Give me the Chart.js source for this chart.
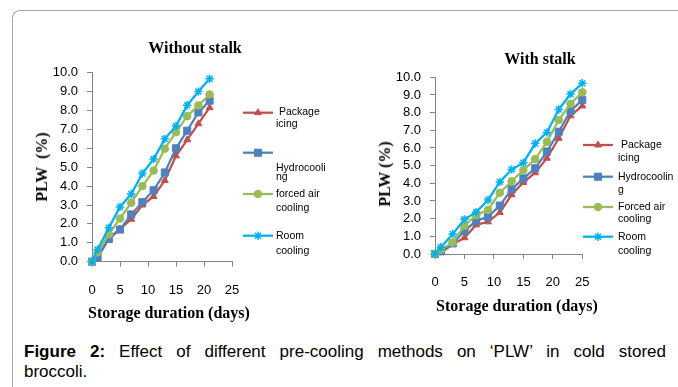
<!DOCTYPE html>
<html>
<head>
<meta charset="utf-8">
<script src="https://cdn.jsdelivr.net/npm/chart.js@4.4.1/dist/chart.umd.min.js"></script>
<style>
  html, body { margin: 0; padding: 0; background: #fff; }
  body { width: 678px; height: 387px; position: relative; overflow: hidden; font-family: "Liberation Sans", Arial, sans-serif; }
  .frame { position: absolute; left: 12px; top: 10px; width: 700px; height: 420px; border-top: 1.5px solid #a6a6a6; border-left: 1.5px solid #a6a6a6; border-top-left-radius: 8px; }
  canvas { position: absolute; }
  .t { position: absolute; font-family: "Liberation Serif", "Times New Roman", serif; font-weight: bold; font-size: 16px; color: #000; white-space: pre; transform: translate(-50%, -50%); }
  .rot { transform: translate(-50%, -50%) rotate(-90deg); }
  .cap { position: absolute; left: 24px; width: 642px; font-size: 17px; line-height: 20px; color: #000; white-space: nowrap; }
  .just { text-align: justify; text-align-last: justify; white-space: normal; }
</style>
</head>
<body>
<div class="frame"></div>
<canvas id="chartLeft" width="326" height="300" style="left:14px;top:12px;"></canvas>
<canvas id="chartRight" width="328" height="300" style="left:350px;top:12px;"></canvas>

<div class="t" style="left:195px;top:48px;">Without stalk</div>
<div class="t" style="left:540px;top:59px;">With stalk</div>
<div class="t rot" style="left:42px;top:167px;">PLW  (%)</div>
<div class="t rot" style="left:385px;top:174px;">PLW (%)</div>
<div class="t" style="left:169px;top:313px;">Storage duration (days)</div>
<div class="t" style="left:517px;top:306px;">Storage duration (days)</div>

<div class="cap just" style="top:342px;"><b>Figure 2:</b> Effect of different pre-cooling methods on ‘PLW’ in cold stored</div>
<div class="cap" style="top:362px;">broccoli.</div>

<script>
// series
const seriesNames = ['Package icing', 'Hydrocooling', 'Forced air cooling', 'Room cooling'];
const colors = ['#C0504D', '#4F81BD', '#9BBB59', '#00B0F0'];
const pointStyles = ['triangle', 'rect', 'circle', 'star'];
const pointSizes = [4, 5, 3.8, 4.2];

// without stalk
const daysLeft = [0, 1, 3, 5, 7, 9, 11, 13, 15, 17, 19, 21];
const packageLeft = [0, 0.2, 1.25, 1.73, 2.25, 3.0, 3.45, 4.3, 5.6, 6.45, 7.3, 8.15];
const hydroLeft = [0, 0.25, 1.2, 1.7, 2.5, 3.15, 3.78, 4.72, 6.0, 6.93, 7.9, 8.52];
const forcedLeft = [0, 0.5, 1.45, 2.28, 3.12, 4.0, 4.82, 5.98, 6.85, 7.7, 8.27, 8.85];
const roomLeft = [0, 0.65, 1.8, 2.9, 3.58, 4.67, 5.43, 6.5, 7.18, 8.28, 9.0, 9.68];

// with stalk
const daysRight = [0, 1, 3, 5, 7, 9, 11, 13, 15, 17, 19, 21, 23, 25];
const packageRight = [0, 0.08, 0.55, 0.92, 1.65, 1.82, 2.35, 3.35, 4.05, 4.6, 5.42, 6.55, 7.82, 8.38];
const hydroRight = [0, 0.15, 0.6, 1.3, 1.88, 2.1, 2.74, 3.66, 4.28, 4.85, 5.8, 6.92, 8.1, 8.72];
const forcedRight = [0, 0.25, 0.65, 1.6, 2.2, 2.5, 3.47, 4.12, 4.75, 5.37, 6.35, 7.58, 8.5, 9.15];
const roomRight = [0, 0.38, 1.13, 1.96, 2.37, 3.06, 4.08, 4.78, 5.17, 6.25, 6.88, 8.18, 9.05, 9.66];

// legend labels (wrapped like the original)
const legendTextLeft = [[' Package', 'icing'], ['Hydrocooli', 'ng'], ['forced air', 'cooling'], ['Room', 'cooling']];
const legendTextRight = [[' Package', 'icing'], ['Hydrocoolin', 'g'], ['Forced air', 'cooling'], ['Room', 'cooling']];

const axisGrey = '#868686';
const tickFont = { size: 13, family: '"Liberation Sans", Arial, sans-serif' };

// legend drawn at the right of each plot
const sideLegend = {
    id: 'sideLegend',
    afterDraw(chart, args, opts) {
        const ctx = chart.ctx;
        ctx.save();
        opts.items.forEach((item, i) => {
            const ds = chart.data.datasets[i];
            ctx.strokeStyle = ds.borderColor;
            ctx.lineWidth = ds.borderWidth;
            ctx.beginPath();
            ctx.moveTo(opts.lineX, item.lineY);
            ctx.lineTo(opts.lineX + 30, item.lineY);
            ctx.stroke();
            ctx.fillStyle = ds.backgroundColor;
            ctx.lineWidth = ds.pointBorderWidth;
            Chart.helpers.drawPoint(ctx, {
                pointStyle: ds.pointStyle,
                radius: ds.pointRadius,
                borderWidth: ds.pointBorderWidth,
                rotation: 0
            }, opts.lineX + 15, item.lineY);
            ctx.fillStyle = '#000';
            ctx.font = '10.5px "Liberation Sans", Arial, sans-serif';
            ctx.textBaseline = 'middle';
            ctx.textAlign = 'left';
            opts.text[i].forEach((line, k) => {
                ctx.fillText(line, opts.textX, item.textY[k]);
            });
        });
        ctx.restore();
    }
};

function buildChart(id, days, series, box, legend) {
    return new Chart(document.getElementById(id), {
        type: 'line',
        data: {
            datasets: series.map((vals, i) => ({
                label: seriesNames[i],
                data: days.map((d, j) => ({ x: d, y: vals[j] })),
                borderColor: colors[i],
                backgroundColor: colors[i],
                borderWidth: 2.25,
                pointStyle: pointStyles[i],
                pointRadius: pointSizes[i],
                pointBorderWidth: i === 3 ? 1.5 : 1,
                tension: 0,
                clip: false,
                order: 4 - i
            }))
        },
        options: {
            responsive: false,
            animation: false,
            events: [],
            layout: { padding: box.padding },
            plugins: {
                legend: { display: false },
                tooltip: { enabled: false },
                sideLegend: legend
            },
            scales: {
                x: {
                    type: 'linear',
                    min: 0,
                    max: 25,
                    ticks: { stepSize: 5, padding: 16, autoSkip: false, maxRotation: 0, color: '#000', font: tickFont },
                    grid: { drawOnChartArea: false, tickLength: 5, color: axisGrey },
                    border: { color: axisGrey, width: 1 },
                    afterFit(s) { s.height = 40; }
                },
                y: {
                    min: 0,
                    max: 10,
                    ticks: {
                        stepSize: 1,
                        padding: 9,
                        autoSkip: false,
                        color: '#000',
                        font: tickFont,
                        callback: v => v.toFixed(1)
                    },
                    grid: { drawOnChartArea: false, tickLength: 5, color: axisGrey },
                    border: { color: axisGrey, width: 1 },
                    afterFit(s) { s.width = box.yWidth; }
                }
            }
        },
        plugins: [sideLegend]
    });
}

buildChart('chartLeft', daysLeft, [packageLeft, hydroLeft, forcedLeft, roomLeft],
    { padding: { left: 0, top: 60.7, right: 108, bottom: 10.3 }, yWidth: 78 },
    {
        lineX: 229, textX: 262, text: legendTextLeft,
        items: [
            { lineY: 100.7, textY: [100, 112.5] },
            { lineY: 140.7, textY: [155.7, 165.5] },
            { lineY: 182, textY: [182, 196] },
            { lineY: 223.7, textY: [224, 239] }
        ]
    });

buildChart('chartRight', daysRight, [packageRight, hydroRight, forcedRight, roomRight],
    { padding: { left: 0, top: 65.3, right: 95.7, bottom: 18 }, yWidth: 85 },
    {
        lineX: 233, textX: 268, text: legendTextRight,
        items: [
            { lineY: 133, textY: [133, 146] },
            { lineY: 164.7, textY: [165, 178] },
            { lineY: 195, textY: [195, 207.5] },
            { lineY: 224.7, textY: [225, 238.7] }
        ]
    });
</script>
</body>
</html>
